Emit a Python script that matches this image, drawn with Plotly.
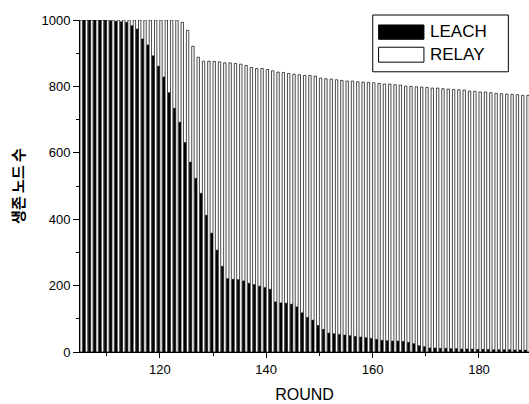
import plotly.graph_objects as go

rounds = list(range(105, 190))

leach = [1000, 1000, 1000, 1000, 1000, 1000, 998, 996, 995, 993,
         983, 973, 943, 925, 892, 861, 828, 781, 734, 692,
         631, 572, 523, 478, 412, 358, 307, 258, 221, 219,
         218, 214, 207, 203, 198, 194, 189, 151, 148, 147,
         144, 136, 118, 104, 96, 80, 68, 57, 55, 53,
         51, 49, 47, 45, 43, 41, 38, 35, 34, 33,
         33, 32, 29, 25, 19, 16, 12, 12, 11, 11,
         10, 10, 9, 9, 9, 8, 8, 8, 7, 7,
         7, 7, 6, 6, 6]

relay = [1000, 1000, 1000, 1000, 1000, 1000, 1000, 1000, 1000, 1000,
         1000, 1000, 1000, 1000, 1000, 1000, 1000, 1000, 1000, 993,
         969, 921, 888, 876, 876, 875, 874, 871, 871, 869,
         867, 863, 857, 854, 854, 851, 847, 843, 842, 839,
         837, 835, 833, 833, 831, 825, 823, 822, 820, 818,
         816, 816, 814, 813, 812, 811, 809, 807, 807, 805,
         804, 801, 800, 799, 798, 797, 795, 795, 793, 792,
         791, 790, 789, 786, 785, 783, 783, 781, 779, 778,
         777, 776, 775, 773, 773]

x_ticks = [120, 140, 160, 180]
y_ticks = [0, 200, 400, 600, 800, 1000]
series_names = ["LEACH", "RELAY"]

FONT = "Liberation Sans, Arial, sans-serif"

fig = go.Figure()
fig.add_trace(go.Bar(x=rounds, y=leach, name=series_names[0],
                     marker=dict(color="black", line=dict(color="black", width=0.5)),
                     showlegend=False))
fig.add_trace(go.Bar(x=rounds, y=relay, name=series_names[1],
                     marker=dict(color="white", line=dict(color="black", width=0.7)),
                     showlegend=False))

fig.update_layout(
    width=529, height=404,
    margin=dict(l=80, r=0, t=20, b=52),
    paper_bgcolor="white", plot_bgcolor="white",
    barmode="group", bargap=0.1, bargroupgap=0.0,
    font=dict(family=FONT, size=13, color="black"),
)

fig.update_xaxes(
    range=[105, 189.4], tickvals=x_ticks, ticktext=[str(v) for v in x_ticks],
    showgrid=False, zeroline=False, showline=True, linecolor="black", linewidth=1,
    ticks="outside", ticklen=5, tickwidth=1, tickcolor="black",
    minor=dict(tickvals=[110, 130, 150, 170], ticks="outside", ticklen=3, tickwidth=1, tickcolor="black"),
    tickfont=dict(family=FONT, size=13),
    title=dict(text="ROUND", font=dict(family=FONT, size=16), standoff=13),
)
fig.update_yaxes(
    range=[0, 1000], tickvals=y_ticks,
    showgrid=False, zeroline=False, showline=True, linecolor="black", linewidth=1,
    ticks="outside", ticklen=6, tickwidth=1, tickcolor="black",
    minor=dict(tickvals=[100, 300, 500, 700, 900], ticks="outside", ticklen=3, tickwidth=1, tickcolor="black"),
    tickfont=dict(family=FONT, size=13),
    title=dict(text="<b>생존 노드 수</b>", font=dict(family="Noto Sans CJK KR", size=15), standoff=13),
)

# manual legend (frame, swatches, labels) in paper coordinates
fig.add_shape(type="rect", xref="paper", yref="paper", x0=0.652, x1=0.954, y0=0.844, y1=1.015,
              line=dict(color="black", width=1), fillcolor="white", layer="above")
fig.add_shape(type="rect", xref="paper", yref="paper", x0=0.665, x1=0.766, y0=0.942, y1=0.985,
              line=dict(color="black", width=1), fillcolor="black", layer="above")
fig.add_shape(type="rect", xref="paper", yref="paper", x0=0.665, x1=0.766, y0=0.873, y1=0.918,
              line=dict(color="black", width=1), fillcolor="white", layer="above")
fig.add_annotation(xref="paper", yref="paper", x=0.776, y=0.964, text=series_names[0],
                   showarrow=False, xanchor="left", yanchor="middle",
                   font=dict(family=FONT, size=17, color="black"))
fig.add_annotation(xref="paper", yref="paper", x=0.776, y=0.895, text=series_names[1],
                   showarrow=False, xanchor="left", yanchor="middle",
                   font=dict(family=FONT, size=17, color="black"))

fig.write_html("out.html")
